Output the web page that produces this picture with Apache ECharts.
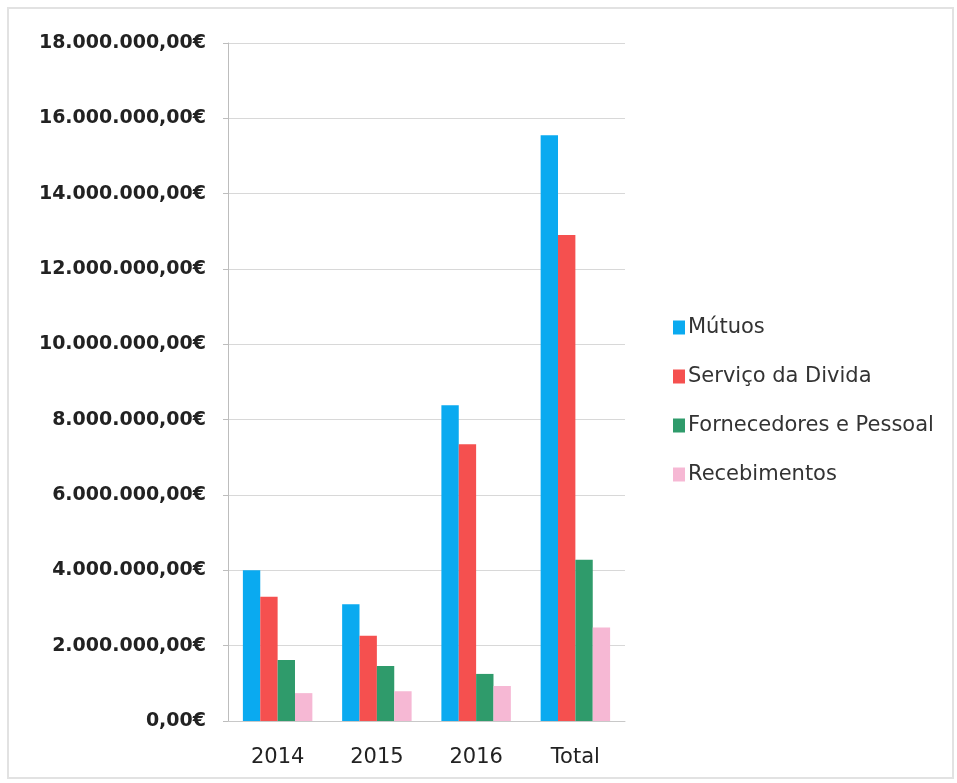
<!DOCTYPE html>
<html>
<head>
<meta charset="utf-8">
<script src="https://cdn.jsdelivr.net/npm/echarts@6/dist/echarts.min.js"></script>
<style>
  html, body { margin: 0; padding: 0; background: #fff; }
  #chart { width: 957px; height: 783px; }
</style>
</head>
<body>
<div id="chart"></div>
<script>
// categorias e valores (euros)
var categories = ['2014', '2015', '2016', 'Total'];
var mutuos = [4000000, 3100000, 8380000, 15550000];
var servicoDivida = [3300000, 2260000, 7350000, 12900000];
var fornecedores = [1620000, 1460000, 1250000, 4280000];
var recebimentos = [740000, 790000, 930000, 2480000];
var seriesNames = ['Mútuos', 'Serviço da Divida', 'Fornecedores e Pessoal', 'Recebimentos'];

var myChart = echarts.init(document.getElementById('chart'));

function formatEuro(v) {
    var s = Math.round(v).toString().replace(/\B(?=(\d{3})+(?!\d))/g, '.');
    return s + ',00€';
}

var option = {
    color: ['#0aaaf0', '#f5504f', '#2f9b6b', '#f6b8d4'],
    animation: false,
    graphic: [{
        type: 'rect',
        shape: { x: 8, y: 8, width: 945, height: 770 },
        style: { fill: 'none', stroke: '#e2e2e2', lineWidth: 2 }
    }],
    legend: {
        orient: 'vertical',
        left: 668,
        top: 312,
        itemWidth: 12,
        itemHeight: 14,
        itemGap: 28,
        icon: 'rect',
        textStyle: { fontSize: 21, color: '#333', fontFamily: 'DejaVu Sans', padding: [0, 0, 0, -2] },
        data: seriesNames
    },
    grid: {
        left: 228,
        right: 332,
        top: 43,
        bottom: 62
    },
    xAxis: {
        type: 'category',
        data: categories,
        axisLine: { lineStyle: { color: '#c8c8c8' } },
        axisTick: { show: false },
        axisLabel: { fontSize: 21, color: '#222', margin: 26, fontFamily: 'DejaVu Sans' }
    },
    yAxis: {
        type: 'value',
        min: 0,
        max: 18000000,
        interval: 2000000,
        axisLine: { show: true, lineStyle: { color: '#bdbdbd' } },
        axisTick: { show: true, inside: false, length: 5, lineStyle: { color: '#bdbdbd' } },
        splitLine: { lineStyle: { color: '#d8d8d8' } },
        axisLabel: {
            fontSize: 19,
            color: '#222',
            margin: 22,
            fontWeight: 'bold',
            fontFamily: 'DejaVu Sans',
            formatter: formatEuro
        }
    },
    series: [
        { name: seriesNames[0], type: 'bar', data: mutuos, barGap: '0%', barCategoryGap: '30%' },
        { name: seriesNames[1], type: 'bar', data: servicoDivida },
        { name: seriesNames[2], type: 'bar', data: fornecedores },
        { name: seriesNames[3], type: 'bar', data: recebimentos }
    ]
};

myChart.setOption(option);
</script>
</body>
</html>
